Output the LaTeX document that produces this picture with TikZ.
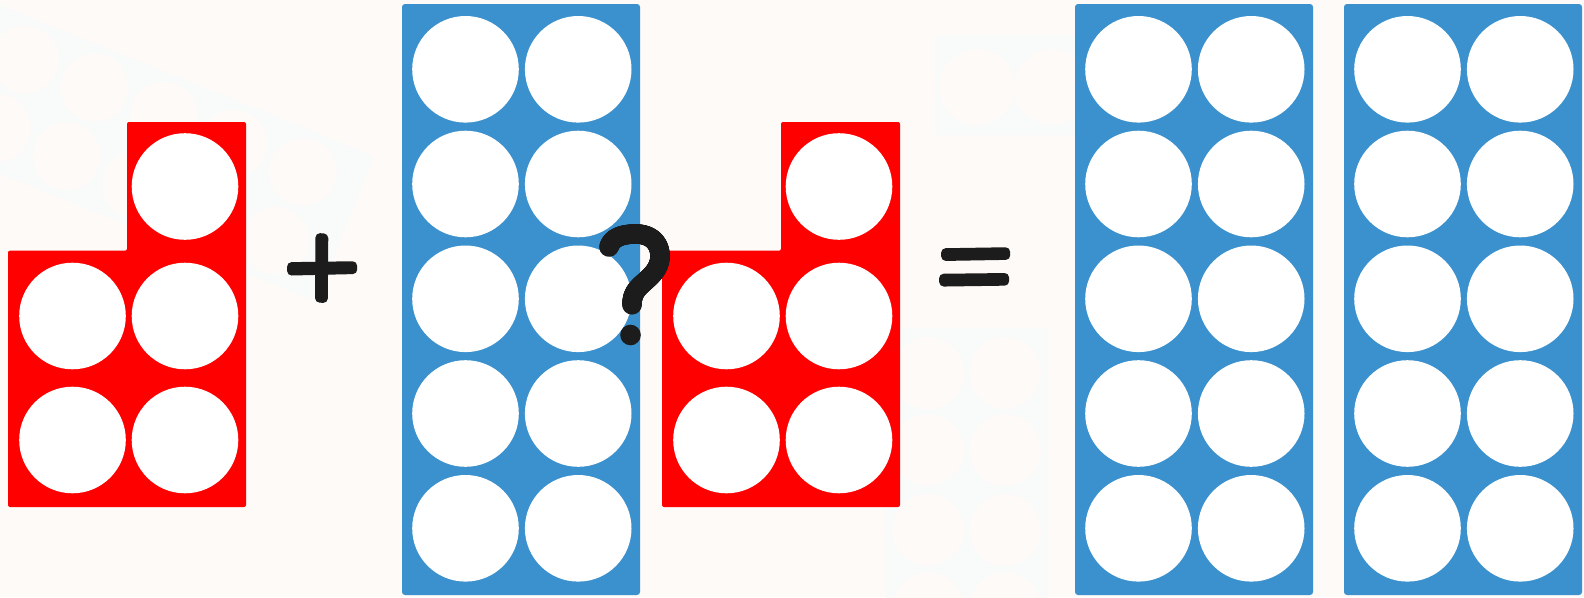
\documentclass[tikz,border=0pt]{standalone}
\usetikzlibrary{decorations.markings}
\begin{document}
\begin{tikzpicture}[x=1pt,y=-1pt,
  wmpanel/.style={fill=wmcol,draw=none,rounded corners=4pt},
  wmhole/.style={fill=bgcol,draw=none},
  redpiece/.style={fill=redc,draw=none,rounded corners=2pt},
  bluebar/.style={fill=bluec,draw=none,rounded corners=3pt},
  hole/.style={fill=white,draw=none},
  symbar/.style={fill=symc,draw=none,rounded corners=4.5pt},
  penstroke/.style={decorate,decoration={markings,
     mark=between positions 0 and 1 step 0.7pt with {\fill[symc] (0pt,0pt) circle (9.8pt);}}}]
\definecolor{bgcol}{HTML}{FDFAF8}
\definecolor{wmcol}{HTML}{F9FAFA}
\definecolor{redc}{HTML}{FF0000}
\definecolor{bluec}{HTML}{3A91CE}
\definecolor{symc}{HTML}{1C1C1C}
\useasboundingbox (0,0) rectangle (1584,597);
\fill[bgcol] (0,0) rectangle (1584,597);
% faint watermark
\begin{scope}[shift={(150,150)},rotate=-22]
  \fill[wmpanel] (-210,-78) rectangle (210,78);
  \foreach \u in {-150,-75,0,75,150}{
    \fill[wmhole] (\u,-37) circle (34);
    \fill[wmhole] (\u,37) circle (34);}
\end{scope}
\fill[wmpanel] (885,328) rectangle (1047,600);
\foreach \yy in {373,450,530,608}{
  \fill[wmhole] (928,\yy) circle (36);
  \fill[wmhole] (1005,\yy) circle (36);}
\fill[wmpanel] (935,35) rectangle (1090,135);
\fill[wmhole] (977,87) circle (38);
\fill[wmhole] (1052,87) circle (38);
% red pieces
\foreach \dx in {0,654}{
  \begin{scope}[xshift=\dx]
    \path[redpiece] (8,250.7) -- (127,250.7) -- (127,122) -- (246,122) -- (246,507) -- (8,507) -- cycle;
    \fill[hole] (185,186.5) circle (53.3);
    \fill[hole] (72.5,316) circle (53.3);
    \fill[hole] (185,316) circle (53.3);
    \fill[hole] (72.5,440) circle (53.3);
    \fill[hole] (185,440) circle (53.3);
  \end{scope}}
% blue bars
\foreach \bx in {402,1075,1344}{
  \begin{scope}[xshift=\bx]
    \path[bluebar] (0,4) rectangle (238,595);
    \foreach \yy in {69.3,184,298.8,413.5,528.3}{
      \fill[hole] (63.5,\yy) circle (53.3);
      \fill[hole] (176.2,\yy) circle (53.3);}
  \end{scope}}
% plus
\path[symbar] (315.5,233) -- (328.3,233.6) -- (327.8,303) -- (315,302.5) -- cycle;
\path[symbar] (287,262.2) -- (357,261.2) -- (357.3,274) -- (287.2,275.6) -- cycle;
% equals
\path[symbar] (941,248.3) -- (1010,247.2) -- (1010.3,259.8) -- (941.3,261) -- cycle;
\path[symbar] (939,273.8) -- (1009,273) -- (1009.2,285.6) -- (939.3,286.6) -- cycle;
% question mark
\path[penstroke] (609,247) .. controls (612,237) and (623,234) .. (636,234)
  .. controls (651,234) and (660,243) .. (660,256)
  .. controls (660,271) and (647,279) .. (640,286)
  .. controls (634,292) and (632,297) .. (632,305);
\fill[symc] (630.5,335) circle (10.3);
\end{tikzpicture}
\end{document}
